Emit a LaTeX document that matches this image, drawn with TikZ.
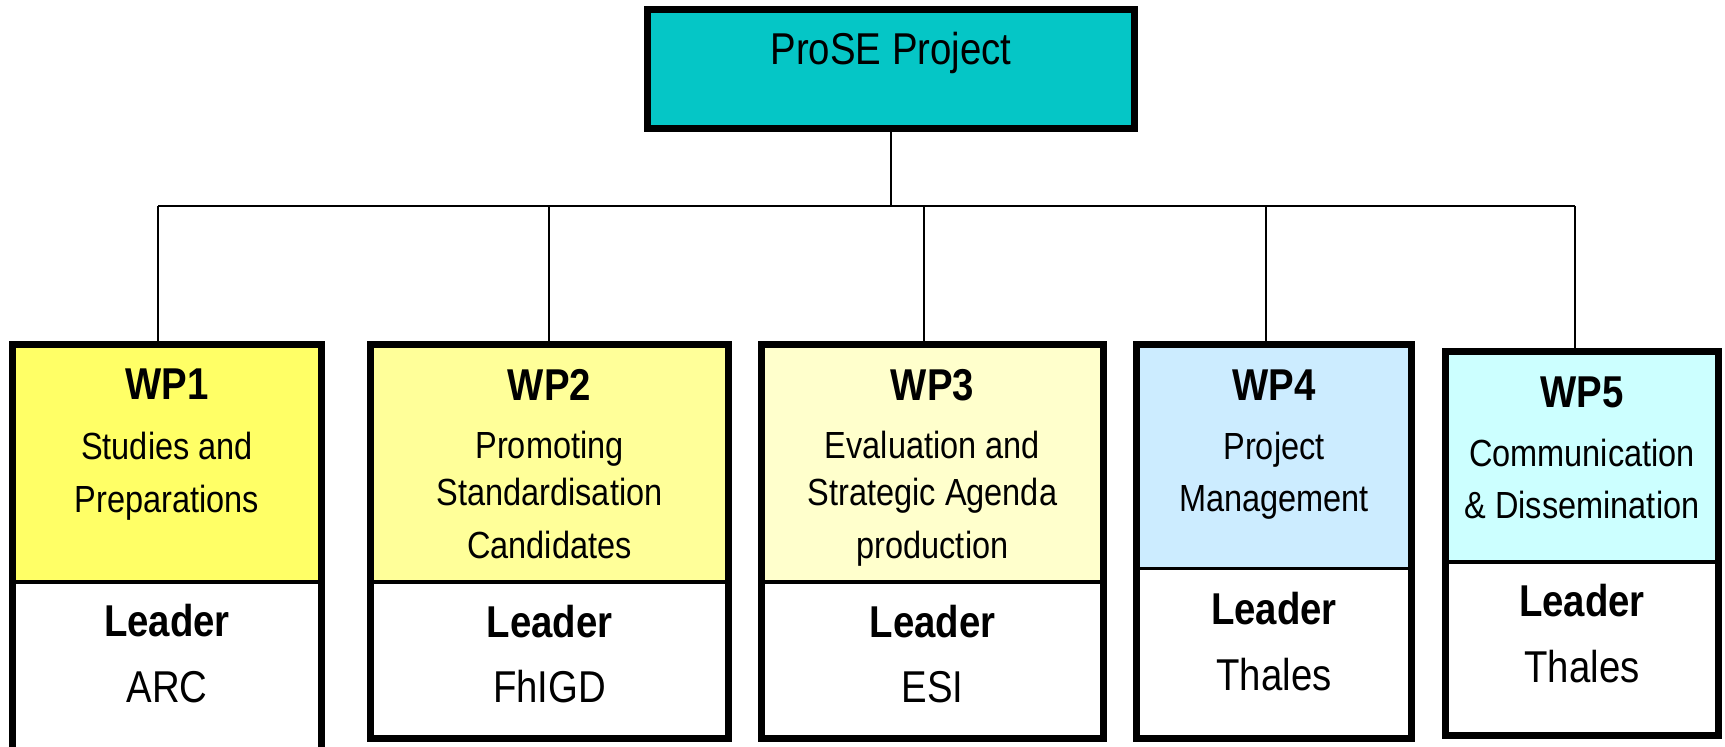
\documentclass[tikz,border=0pt]{standalone}
\usepackage{fontspec}
\setmainfont{Liberation Sans}[FakeStretch=0.86]
\definecolor{topc}{RGB}{5,198,198}
\definecolor{wpa}{RGB}{255,255,102}
\definecolor{wpb}{RGB}{255,255,153}
\definecolor{wpc}{RGB}{255,255,204}
\definecolor{wpd}{RGB}{204,236,255}
\definecolor{wpe}{RGB}{204,255,255}
\tikzset{
  frame/.style={draw=black, line width=3.5pt, inner sep=0pt, outer sep=0pt, rectangle},
  region/.style={inner sep=0pt, outer sep=0pt, rectangle},
  divline/.style={line width=1.75pt},
  conn/.style={line width=1pt, draw=black},
  big/.style={font=\fontsize{22.3}{26}\selectfont, anchor=base, inner sep=0pt},
  bigb/.style={font=\fontsize{22.3}{26}\selectfont\bfseries, anchor=base, inner sep=0pt},
  body/.style={font=\fontsize{18.9}{22}\selectfont, anchor=base, inner sep=0pt},
}
\begin{document}
\begin{tikzpicture}[x=0.5pt,y=-0.5pt]
\useasboundingbox (0,0) rectangle (1725,747);
\clip (0,0) rectangle (1725,747);

% connectors
\coordinate (d1) at (158,206.5);
\coordinate (d2) at (549,206.5);
\coordinate (d3) at (924,206.5);
\coordinate (d4) at (1266,206.5);
\coordinate (d5) at (1575,206.5);

% top box
\node[frame, fill=topc, minimum width=243.5pt, minimum height=59.5pt] (top) at (891,69) {};
\node[big] (toptext) at (891,65) {ProSE Project};

% WP1
\node[region, fill=wpa, minimum width=154.5pt, minimum height=118.75pt] (h1) at (167,463.25) {};
\node[region, fill=white, minimum width=154.5pt, minimum height=94pt] (f1) at (167,676) {};
\node[frame, minimum width=154.5pt, minimum height=212.75pt] (wp1) at (167,557.25) {};
% WP2
\node[region, fill=wpb, minimum width=179pt, minimum height=118.75pt] (h2) at (549.5,463.25) {};
\node[region, fill=white, minimum width=179pt, minimum height=78.5pt] (f2) at (549.5,660.5) {};
\node[frame, minimum width=179pt, minimum height=197.25pt] (wp2) at (549.5,541.75) {};
% WP3
\node[region, fill=wpc, minimum width=171pt, minimum height=118.75pt] (h3) at (932.5,463.25) {};
\node[region, fill=white, minimum width=171pt, minimum height=78.5pt] (f3) at (932.5,660.5) {};
\node[frame, minimum width=171pt, minimum height=197.25pt] (wp3) at (932.5,541.75) {};
% WP4
\node[region, fill=wpd, minimum width=137.5pt, minimum height=112pt] (h4) at (1274,456.5) {};
\node[region, fill=white, minimum width=137.5pt, minimum height=85pt] (f4) at (1274,653.5) {};
\node[frame, minimum width=137.5pt, minimum height=197pt] (wp4) at (1274,541.5) {};
% WP5
\node[region, fill=wpe, minimum width=136.5pt, minimum height=105.25pt] (h5) at (1582,456.75) {};
\node[region, fill=white, minimum width=136.5pt, minimum height=86.75pt] (f5) at (1582,648.75) {};
\node[frame, minimum width=136.5pt, minimum height=192pt] (wp5) at (1582,543.5) {};

% dividers
\foreach \i in {1,...,5} {
  \draw[divline] (h\i.south west) -- (h\i.south east);
}

% connectors
\draw[conn] (top.south) -- (top.south |- d1);
\draw[conn] (d1) -- (d5);
\draw[conn] (d1) -- (d1 |- wp1.north);
\draw[conn] (d2) -- (d2 |- wp2.north);
\draw[conn] (d3) -- (d3 |- wp3.north);
\draw[conn] (d4) -- (d4 |- wp4.north);
\draw[conn] (d5) -- (d5 |- wp5.north);

% texts WP1
\node[bigb] (t1a) at (167,400) {WP1};
\node[body] (t1b) at (167,460) {Studies and};
\node[body] (t1c) at (167,512.7) {Preparations};
\node[bigb] (t1d) at (167,636.7) {Leader};
\node[big]  (t1e) at (167,703) {ARC};
% texts WP2
\node[bigb] (t2a) at (549.5,400.7) {WP2};
\node[body] (t2b) at (549.5,459) {Promoting};
\node[body] (t2c) at (549.5,506) {Standardisation};
\node[body] (t2d) at (549.5,558.7) {Candidates};
\node[bigb] (t2e) at (549.5,638) {Leader};
\node[big]  (t2f) at (549.5,703) {FhIGD};
% texts WP3
\node[bigb] (t3a) at (932.5,400.7) {WP3};
\node[body] (t3b) at (932.5,459) {Evaluation and};
\node[body] (t3c) at (932.5,506) {Strategic Agenda};
\node[body] (t3d) at (932.5,558.7) {production};
\node[bigb] (t3e) at (932.5,638) {Leader};
\node[big]  (t3f) at (932.5,703) {ESI};
% texts WP4
\node[bigb] (t4a) at (1274,400.7) {WP4};
\node[body] (t4b) at (1274,460) {Project};
\node[body] (t4c) at (1274,511.7) {Management};
\node[bigb] (t4d) at (1274,625) {Leader};
\node[big]  (t4e) at (1274,690.7) {Thales};
% texts WP5
\node[bigb] (t5a) at (1582,408) {WP5};
\node[body] (t5b) at (1582,466.7) {Communication};
\node[body] (t5c) at (1582,519) {\& Dissemination};
\node[bigb] (t5d) at (1582,617) {Leader};
\node[big]  (t5e) at (1582,682.7) {Thales};
\end{tikzpicture}
\end{document}
